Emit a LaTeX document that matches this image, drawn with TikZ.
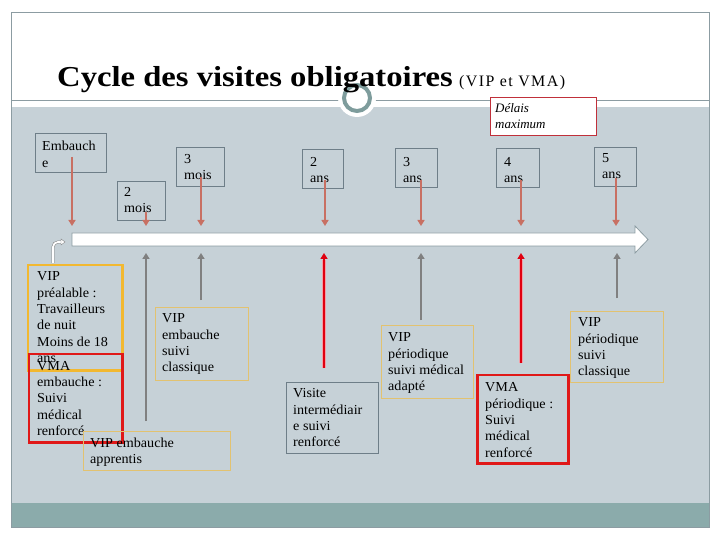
\documentclass[tikz,border=0pt]{standalone}
\usepackage{fontspec}
\setmainfont{Liberation Serif}
\usetikzlibrary{arrows.meta}
\definecolor{bodygray}{HTML}{C6D1D7}
\definecolor{bandteal}{HTML}{8BABAB}
\definecolor{framegray}{HTML}{8C9CA2}
\definecolor{ringcol}{HTML}{7E9C9C}
\definecolor{topgray}{HTML}{6E7E88}
\definecolor{salmon}{HTML}{C87063}
\definecolor{arrgray}{HTML}{808080}
\definecolor{brightred}{HTML}{E00010}
\definecolor{pinkglow}{HTML}{F0A0A8}
\definecolor{orangeb}{HTML}{F2B830}
\definecolor{redb}{HTML}{E01818}
\definecolor{tanb}{HTML}{E2C270}
\definecolor{delaisred}{HTML}{C0303A}
\tikzset{
  txt/.style={inner sep=0pt, anchor=north west, align=left, font=\fontsize{13.8}{16.4}\selectfont\addfontfeature{FakeStretch=1.03}},
  boxbase/.style={anchor=north west, inner sep=0pt, outer sep=0pt},
  topbox/.style={boxbase, draw=topgray, line width=0.9pt},
  tanbox/.style={boxbase, draw=tanb, line width=0.9pt},
  orangebox/.style={boxbase, draw=orangeb, line width=3pt},
  redbox/.style={boxbase, draw=redb, line width=3pt},
  grayboxb/.style={boxbase, draw=topgray, line width=0.9pt},
  salarrow/.style={draw=salmon, line width=2.1pt, -{Triangle[length=6bp,width=7bp]}},
  grayarrow/.style={draw=arrgray, line width=2pt, -{Triangle[length=6bp,width=7bp]}},
  redglow/.style={draw=pinkglow, line width=4.2pt},
  redarrow/.style={draw=brightred, line width=2.2pt, -{Triangle[length=6bp,width=7bp]}},
}
\begin{document}
\begin{tikzpicture}[x=1bp,y=-1bp]
\useasboundingbox (0,0) rectangle (720,540);
\fill[white] (0,0) rectangle (720,540);
% body and band
\fill[bodygray] (11,107) rectangle (709,503);
\fill[bandteal] (11,503) rectangle (709,527);
\draw[framegray, line width=0.8pt] (11,12) rectangle (709,527);
\draw[framegray, line width=0.8pt] (11,100) -- (709,100);
% ring
\fill[white] (357,98) circle (19);
\draw[ringcol, line width=4pt] (357,98) circle (13);
% title
\node[inner sep=0pt, anchor=base west, font=\bfseries\fontsize{29}{32}\selectfont\addfontfeature{FakeStretch=1.13}] (title) at (57,87) {Cycle des visites obligatoires};
\node[inner sep=0pt, anchor=base west, font=\fontsize{16}{18}\selectfont\addfontfeature{LetterSpace=9}] (sub) at (459,87) {(VIP et VMA)};
% delais box
\node[boxbase, draw=delaisred, fill=white, line width=0.9pt, minimum width=107, minimum height=39] (delais) at (490,97) {};
\node[txt, font=\itshape\fontsize{13}{16.4}\selectfont] (delaist) at (495,103) {Délais\\maximum};
% timeline arrow
\coordinate (tlL) at (72,233);
\draw[framegray, fill=white, line width=0.8pt] (72,233) -- (635,233) -- (635,226) -- (648,239.5) -- (635,253) -- (635,246) -- (72,246) -- cycle;
% hook
\draw[arrgray, double=white, double distance=1.8pt, line width=0.5pt] (53,263) -- (53,247) to[out=90,in=180] (58,242) -- (61,242);
\fill[white, draw=arrgray, line width=0.4pt] (61,239) -- (65,242) -- (61,245) -- cycle;
% top boxes
\node[topbox, minimum width=72, minimum height=40] (emb) at (35,133) {};
\node[txt] (embt) at (42,141) {Embauch\\e};
\node[topbox, minimum width=49, minimum height=40] (m2) at (117,181) {};
\node[txt] (m2t) at (124,187) {2\\mois};
\node[topbox, minimum width=49, minimum height=40] (m3) at (176,147) {};
\node[txt] (m3t) at (184,154) {3\\mois};
\node[topbox, minimum width=42, minimum height=40] (a2) at (302,149) {};
\node[txt] (a2t) at (310,157) {2\\ans};
\node[topbox, minimum width=43, minimum height=40] (a3) at (395,148) {};
\node[txt] (a3t) at (403,157) {3\\ans};
\node[topbox, minimum width=44, minimum height=40] (a4) at (496,148) {};
\node[txt] (a4t) at (504,157) {4\\ans};
\node[topbox, minimum width=43, minimum height=40] (a5) at (594,147) {};
\node[txt] (a5t) at (602,153) {5\\ans};
% top arrows
\foreach \n/\x/\y in {1/72/157, 2/146/212, 3/201/177, 4/325/180, 5/421/180, 6/521/180, 7/616/178}{
  \coordinate (ts\n) at (\x,\y);
  \coordinate (te\n) at (\x,226);
  \draw[salarrow] (ts\n) -- (te\n);
}
% bottom arrows
\foreach \n/\x/\y in {1/146/421, 2/201/300, 3/421/320, 4/617/298}{
  \coordinate (gs\n) at (\x,\y);
  \coordinate (ge\n) at (\x,253);
  \draw[grayarrow] (gs\n) -- (ge\n);
}
\foreach \n/\x/\y in {1/324/368, 2/521/363}{
  \coordinate (rs\n) at (\x,\y);
  \coordinate (re\n) at (\x,253);
  \draw[redglow] (rs\n) -- ([yshift=-7]re\n);
  \draw[redarrow] (rs\n) -- (re\n);
}
% bottom boxes
\node[tanbox, minimum width=94, minimum height=74] (vipcl) at (155,307) {};
\node[txt] (vipclt) at (162,313.5) {VIP\\embauche\\suivi\\classique};
\node[orangebox, minimum width=95, minimum height=106] (vippre) at (28,265) {};
\node[txt] (vippret) at (37,271.5) {VIP\\préalable :\\Travailleurs\\de nuit\\Moins de 18\\ans};
\node[redbox, minimum width=94, minimum height=89] (vmaemb) at (29,354) {};
\node[txt] (vmaembt) at (37,361) {VMA\\embauche :\\Suivi\\médical\\renforcé};
\node[tanbox, minimum width=148, minimum height=40] (vipapp) at (83,431) {};
\node[txt] (vipappt) at (90,437.5) {VIP embauche\\apprentis};
\node[grayboxb, minimum width=93, minimum height=72] (visite) at (286,382) {};
\node[txt] (visitet) at (293,388.5) {Visite\\intermédiair\\e suivi\\renforcé};
\node[tanbox, minimum width=93, minimum height=74] (vipad) at (381,325) {};
\node[txt] (vipadt) at (388,332.5) {VIP\\périodique\\suivi médical\\adapté};
\node[redbox, minimum width=92, minimum height=89] (vmaper) at (477,375) {};
\node[txt] (vmapert) at (485,382.5) {VMA\\périodique :\\Suivi\\médical\\renforcé};
\node[tanbox, minimum width=94, minimum height=72] (vipcl2) at (570,311) {};
\node[txt] (vipcl2t) at (578,317.5) {VIP\\périodique\\suivi\\classique};
\end{tikzpicture}
\end{document}
